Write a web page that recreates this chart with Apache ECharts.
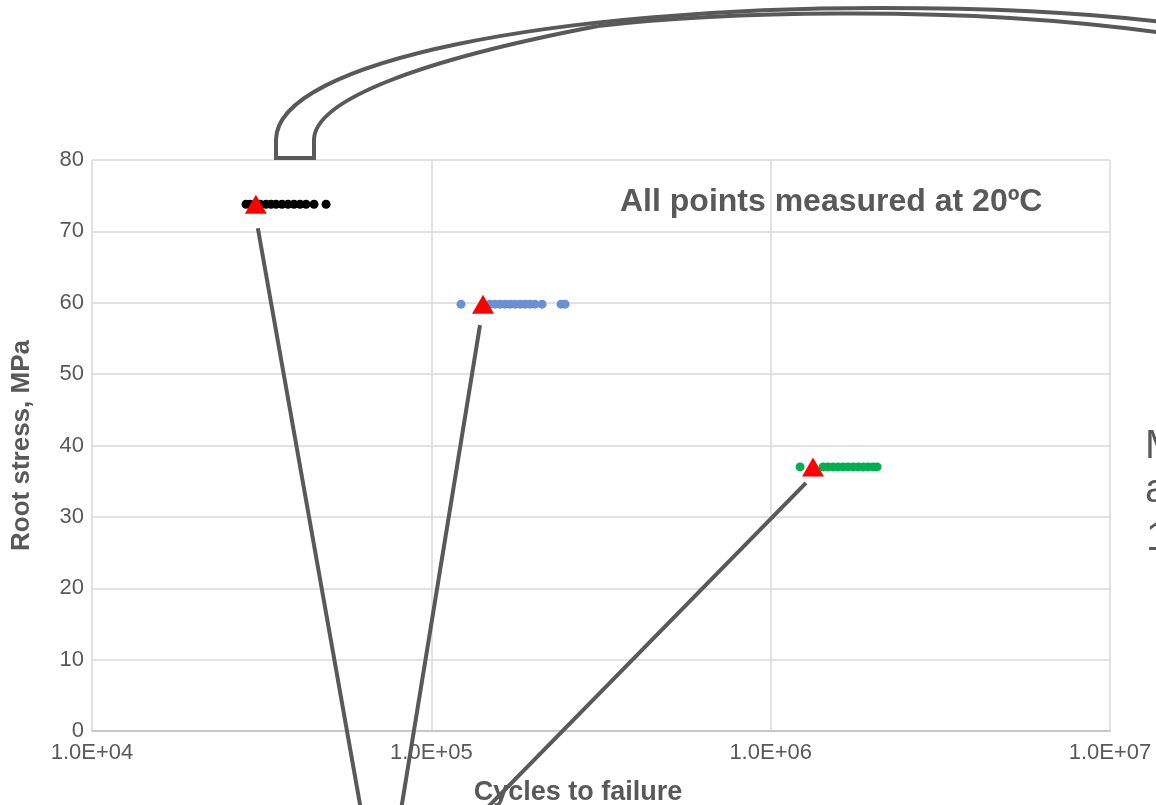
<!DOCTYPE html>
<html><head><meta charset="utf-8">
<script src="https://cdn.jsdelivr.net/npm/echarts@6/dist/echarts.min.js"></script>
<style>html,body{margin:0;padding:0;background:#fff}#c{width:1156px;height:805px}</style>
</head><body><div id="c"></div>
<script>
// ---- data ----
const xTickValues = [1e4, 1e5, 1e6, 1e7];
const yMin = 0, yMax = 80, yStep = 10;

const blackStress = 73.8;
const blackCycles = [28440, 29220, 30230, 31270, 32570, 33700, 34860, 36310, 37820, 39390, 41030, 42730, 45110, 48950];

const blueStress = 59.8;
const blueCycles = [122300, 148900, 154100, 159400, 164900, 170600, 176500, 182600, 188900, 195400, 202100, 212000, 241200, 247800];

const greenStress = 37.0;
const greenCycles = [1221000, 1427000, 1476000, 1527000, 1580000, 1635000, 1691000, 1750000, 1810000, 1873000, 1937000, 2004000, 2059000];

const meanCycles = [30400, 142000, 1333000];
const meanStress = [73.8, 59.8, 37.0];

const xName = 'Cycles to failure';
const yName = 'Root stress, MPa';
const noteText = 'All points measured at 20ºC';

// ---- chart ----
const gray = '#595959';
const gridColor = '#d9d9d9';
function fmtExp(v) {
  const e = Math.round(Math.log10(v));
  const m = v / Math.pow(10, e);
  const es = (e < 0 ? '-' : '+') + String(Math.abs(e)).padStart(2, '0');
  return m.toFixed(1) + 'E' + es;
}
const toPts = (xs, y) => xs.map(x => [x, y]);

const chart = echarts.init(document.getElementById('c'), null, {renderer: 'canvas'});
chart.setOption({
  animation: false,
  backgroundColor: '#fff',
  grid: {left: 92, right: 46, top: 160, bottom: 74, containLabel: false, outerBoundsMode: 'none'},
  xAxis: {
    type: 'log', logBase: 10, min: xTickValues[0], max: xTickValues[xTickValues.length - 1],
    axisLine: {show: true, lineStyle: {color: '#bfbfbf', width: 1.5}},
    axisTick: {show: false},
    minorTick: {show: false},
    splitLine: {show: true, lineStyle: {color: gridColor, width: 1.5}},
    axisLabel: {color: gray, fontSize: 22, fontFamily: 'Liberation Sans', margin: 11, formatter: fmtExp},
    name: xName, nameLocation: 'middle', nameGap: 48,
    nameTextStyle: {color: gray, fontSize: 27, fontWeight: 'bold', fontFamily: 'Liberation Sans', padding: [0, 46, 0, 0]}
  },
  yAxis: {
    type: 'value', min: yMin, max: yMax, interval: yStep,
    axisLine: {show: false}, axisTick: {show: false},
    splitLine: {show: true, lineStyle: {color: gridColor, width: 1.5}},
    axisLabel: {color: gray, fontSize: 22, fontFamily: 'Liberation Sans', margin: 8},
    name: yName, nameLocation: 'middle', nameGap: 57,
    nameTextStyle: {color: gray, fontSize: 26, fontWeight: 'bold', fontFamily: 'Liberation Sans'}
  },
  series: [
    {type: 'scatter', data: toPts(blackCycles, blackStress), symbolSize: 9, itemStyle: {color: '#000000', opacity: 1}, z: 2},
    {type: 'scatter', data: toPts(blueCycles, blueStress), symbolSize: 9, itemStyle: {color: '#6A8FD5', opacity: 1}, z: 2},
    {type: 'scatter', data: toPts(greenCycles, greenStress), symbolSize: 9, itemStyle: {color: '#00B050', opacity: 1}, z: 2},
    {type: 'scatter', data: meanCycles.map((x, i) => [x, meanStress[i]]), symbol: 'triangle', symbolSize: [22, 19],
     itemStyle: {color: '#FF0000', opacity: 1}, z: 3}
  ]
});

// callout lines anchored at the mean markers
const anchors = meanCycles.map((x, i) => chart.convertToPixel({gridIndex: 0}, [x, meanStress[i]]));
const offs = [[2, 24], [-3, 21], [-7, 16]];
const ends = [[361, 810], [401, 810], [485, 810]];
const lines = anchors.map((p, i) => ({
  type: 'line', z: 50, silent: true,
  shape: {x1: p[0] + offs[i][0], y1: p[1] + offs[i][1], x2: ends[i][0], y2: ends[i][1]},
  style: {stroke: gray, lineWidth: 4}
}));

const arrowStyle = {stroke: gray, lineWidth: 4, fill: null};
const seg = (x1, y1, x2, y2) => ({type: 'line', z: 40, silent: true, shape: {x1, y1, x2, y2}, style: arrowStyle});
const bez = (x1, y1, cpx1, cpy1, cpx2, cpy2, x2, y2) => ({type: 'bezierCurve', z: 40, silent: true,
  shape: {x1, y1, cpx1, cpy1, cpx2, cpy2, x2, y2}, style: arrowStyle});

chart.setOption({
  graphic: [
    ...lines,
    seg(276, 158, 276, 140),
    bez(276, 140, 276, 60, 560, 8, 880, 8),
    bez(880, 8, 1000, 8, 1100, 14, 1170, 23),
    seg(314, 158, 314, 140),
    bez(314, 140, 314, 100, 420, 60, 598, 26),
    bez(598, 26, 700, 14, 950, 2, 1170, 34),
    seg(274, 158, 316, 158),
    {type: 'text', z: 30, left: 620, top: 186,
     style: {text: noteText, fill: gray, font: 'bold 32px "Liberation Sans"'}},
    {type: 'text', z: 30, left: 1145, top: 427,
     style: {text: 'M', fill: gray, font: '40px "Liberation Sans"'}},
    {type: 'text', z: 30, left: 1145, top: 471,
     style: {text: 'a', fill: gray, font: '40px "Liberation Sans"'}},
    {type: 'text', z: 30, left: 1146, top: 519,
     style: {text: '1', fill: gray, font: '40px "Liberation Sans"'}}
  ]
});
</script></body></html>
